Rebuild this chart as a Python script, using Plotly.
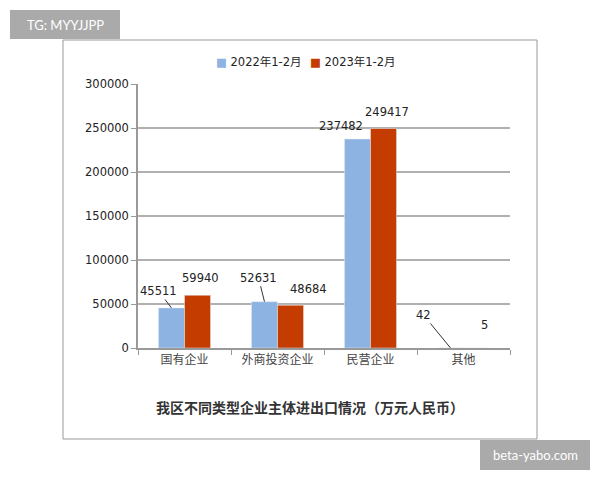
####################################################################################################################
# plot.py
#
# grouped bar chart - import/export by enterprise type, Jan-Feb 2022 vs 2023

import plotly.graph_objects as go

####################################################################################################################
# DATA
categories = ['国有企业', '外商投资企业', '民营企业', '其他']
values_2022 = [45511, 52631, 237482, 42]
values_2023 = [59940, 48684, 249417, 5]
series_names = ['2022年1-2月', '2023年1-2月']
y_ticks = [0, 50000, 100000, 150000, 200000, 250000, 300000]
title_text = '我区不同类型企业主体进出口情况（万元人民币）'

# label placement (pixel offsets from bar top) - style only
label_off_2022 = [(-13, -17, True), (-6, -24, True), (-16, 13, False), (-27, -33, True)]
label_off_2023 = [(3, 17, False), (18, 16, False), (3, 17, False), (8, 23, False)]

####################################################################################################################
# LAYOUT HELPERS
# the page body adds an 8px margin, so the figure is drawn 8px smaller and everything shifted by it
OFF = 8
W, H = 600 - OFF, 480 - OFF
L, R, T, B = 138 - OFF, 90, 84 - OFF, 132
PW, PH = W - L - R, H - T - B

def px_x(p):
    return (p - OFF - L) / PW

def px_y(p):
    return (H - B - (p - OFF)) / PH

BLUE = '#8db3e2'
RED = '#c43c00'
NUM_FONT = dict(family='DejaVu Sans, Noto Sans CJK SC', size=11.5, color='#222')

####################################################################################################################
# FIGURE
fig = go.Figure()
fig.add_trace(go.Bar(x=categories, y=values_2022, marker_color=BLUE, name=series_names[0]))
fig.add_trace(go.Bar(x=categories, y=values_2023, marker_color=RED, name=series_names[1]))

# data labels
for vals, offs, shift in [(values_2022, label_off_2022, -0.14), (values_2023, label_off_2023, 0.14)]:
    for i, (v, (dx, dy, arrow)) in enumerate(zip(vals, offs)):
        if arrow:
            fig.add_annotation(x=i + shift, y=v, text=str(v), showarrow=True, arrowhead=0,
                               arrowwidth=1, arrowcolor='#333', ax=dx, ay=dy, standoff=0,
                               font=NUM_FONT)
        else:
            fig.add_annotation(x=i + shift, y=v, text=str(v), showarrow=False,
                               xshift=dx, yshift=dy, font=NUM_FONT)

# compact legend drawn as text (plotly's legend symbol area is too wide here)
for name, col, lx in zip(series_names, [BLUE, RED], [214, 308]):
    fig.add_annotation(xref='paper', yref='paper', x=px_x(lx), y=px_y(62), xanchor='left', yanchor='middle',
                       text='<span style="color:%s">■</span> %s' % (col, name), showarrow=False,
                       font=dict(family='DejaVu Sans, Noto Sans CJK SC', size=11.5, color='#222'))

# title at bottom
fig.add_annotation(xref='paper', yref='paper', x=px_x(310), y=px_y(407), text='<b>' + title_text + '</b>',
                   showarrow=False, font=dict(family='Noto Sans CJK SC', size=14, color='#333'),
                   xanchor='center', yanchor='middle')

# outer frame
fig.add_shape(type='rect', xref='paper', yref='paper', x0=px_x(63), x1=px_x(537), y0=px_y(439), y1=px_y(40),
              line=dict(color='#999', width=1), layer='below')

# watermark boxes
for (x0, y0, x1, y1, txt) in [(10, 10, 120, 39, 'TG: MYYJJPP'), (480, 440, 590, 470, 'beta-yabo.com')]:
    fig.add_shape(type='rect', xref='paper', yref='paper', x0=px_x(x0), x1=px_x(x1), y0=px_y(y1), y1=px_y(y0),
                  fillcolor='#aaaaaa', line=dict(width=0))
    fig.add_annotation(xref='paper', yref='paper', x=px_x((x0 + x1) / 2), y=px_y((y0 + y1) / 2), text=txt,
                       showarrow=False, font=dict(family='Lato, DejaVu Sans', size=13, color='white'),
                       xanchor='center', yanchor='middle')

fig.update_layout(
    width=W, height=H,
    margin=dict(l=L, r=R, t=T, b=B, pad=0),
    paper_bgcolor='white', plot_bgcolor='white',
    barmode='group', bargap=0.44, bargroupgap=0,
    showlegend=False,
)
fig.update_xaxes(type='category', showline=True, linecolor='#999', linewidth=1.5,
                 ticks='outside', tickson='boundaries', ticklen=5, tickcolor='#999',
                 tickfont=dict(family='Noto Sans CJK SC', size=12, color='#444'),
                 showgrid=False, range=[-0.5, 3.5])
fig.update_yaxes(range=[0, 300000], tickvals=y_ticks, tickformat='d', showline=True, linecolor='#999',
                 linewidth=1.5, ticks='outside', ticklen=5, tickcolor='#999', tickfont=NUM_FONT,
                 showgrid=True, gridcolor='#b0b0b0', gridwidth=1.5, zeroline=False)

fig.write_html("out.html")
